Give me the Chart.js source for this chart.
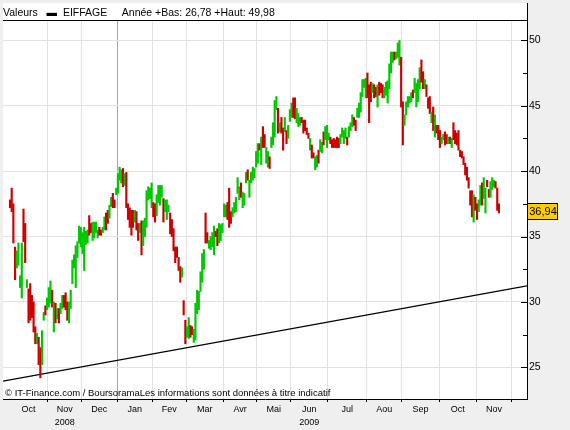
<!DOCTYPE html>
<html lang="fr">
<head>
<meta charset="utf-8">
<title>EIFFAGE</title>
<script src="https://cdn.jsdelivr.net/npm/chart.js@4.4.1/dist/chart.umd.min.js"></script>
<style>
    html, body { margin: 0; padding: 0; background: #efefef; }
    #graphe { display: block; }
</style>
</head>
<body>
<canvas id="graphe" width="570" height="430"></canvas>
<script>
// EIFFAGE, une barre par séance, du 1er oct. 2008 au 19 nov. 2009
const bas = [
    37.2, 36.9, 34.5, 31.7, 32.6, 32.8, 31.1, 30.3, 34.6, 33.0,
    31.1, 28.4, 28.6, 28.8, 27.7, 26.8, 26.8, 25.2, 24.2, 25.2,
    28.6, 29.0, 29.4, 29.6, 29.9, 29.6, 27.7, 28.4, 28.7, 28.4,
    29.1, 29.5, 29.6, 29.4, 28.6, 28.4, 29.5, 31.4, 32.6, 31.1,
    33.4, 34.5, 34.2, 33.7, 32.4, 34.4, 34.5, 35.1, 35.3, 34.7,
    34.9, 35.3, 34.9, 35.1, 35.1, 35.3, 35.5, 35.5, 36.0, 36.4,
    37.3, 37.2, 37.2, 38.2, 38.3, 39.3, 39.1, 38.8, 38.9, 37.2,
    36.3, 35.7, 35.1, 35.7, 36.1, 35.5, 34.7, 35.3, 33.6, 34.3,
    35.0, 35.7, 37.8, 37.9, 37.2, 36.5, 36.1, 36.6, 37.6, 37.4,
    38.0, 36.1, 36.9, 36.3, 36.9, 35.2, 35.0, 33.9, 33.0, 33.4,
    32.4, 31.5, 31.9, 29.0, 26.8, 27.3, 27.2, 27.3, 27.5, 26.9,
    27.1, 29.1, 29.4, 30.8, 31.5, 32.5, 34.5, 34.5, 34.1, 34.0,
    34.2, 33.6, 35.0, 34.3, 34.5, 34.7, 35.3, 36.5, 36.5, 36.3,
    35.7, 36.0, 36.5, 36.8, 36.9, 38.3, 37.8, 38.0, 37.2, 37.4,
    39.1, 39.3, 38.0, 39.1, 39.3, 39.5, 40.3, 40.6, 41.6, 40.5,
    41.8, 41.8, 40.6, 40.3, 40.2, 41.8, 42.0, 42.6, 44.7, 42.9,
    43.0, 42.9, 41.6, 43.0, 42.1, 42.5, 43.8, 44.1, 44.1, 44.0,
    43.7, 43.4, 43.5, 43.7, 42.9, 43.1, 42.8, 42.5, 41.6, 41.0,
    41.0, 40.1, 40.3, 40.6, 41.5, 41.4, 42.0, 42.4, 41.8, 42.4,
    42.1, 41.8, 41.8, 41.8, 41.8, 41.8, 42.1, 42.6, 42.1, 42.5,
    42.0, 42.6, 43.1, 43.4, 43.5, 43.1, 44.1, 44.1, 44.5, 45.7,
    46.4, 45.6, 45.6, 43.7, 45.3, 46.0, 45.6, 45.7, 44.9, 45.8,
    46.0, 45.6, 45.6, 45.8, 45.2, 46.3, 47.5, 48.3, 48.5, 48.6,
    48.7, 48.1, 44.9, 42.0, 43.5, 44.3, 44.9, 45.2, 45.3, 45.6,
    46.0, 44.9, 45.3, 46.3, 46.8, 46.3, 46.3, 45.7, 44.8, 44.4,
    43.7, 43.1, 42.6, 42.9, 42.4, 41.8, 42.1, 42.4, 42.0, 42.1,
    42.1, 42.1, 41.8, 42.4, 42.1, 42.0, 41.6, 41.1, 41.0, 40.5,
    39.7, 39.3, 38.7, 37.4, 36.5, 36.1, 37.0, 36.3, 36.9, 37.4,
    37.4, 37.9, 36.8, 38.8, 38.0, 38.0, 38.6, 38.8, 38.7, 37.0,
    36.8
];
const hauts = [
    37.8, 38.7, 37.5, 34.2, 33.9, 34.5, 32.0, 34.5, 37.1, 36.0,
    31.7, 31.0, 31.4, 30.5, 30.0, 28.1, 27.6, 27.3, 26.5, 27.8,
    29.2, 29.7, 30.3, 31.1, 31.6, 30.9, 30.0, 29.9, 29.5, 29.5,
    29.9, 30.5, 30.5, 30.7, 30.0, 30.0, 30.9, 33.2, 33.6, 34.3,
    34.6, 35.8, 35.7, 35.3, 35.7, 35.4, 35.5, 36.6, 36.0, 36.1,
    36.1, 36.1, 35.5, 35.7, 35.5, 35.7, 36.5, 36.8, 37.0, 37.4,
    38.0, 38.3, 37.8, 38.7, 39.8, 40.3, 40.1, 40.2, 39.8, 39.9,
    37.5, 37.2, 37.0, 37.0, 37.0, 36.9, 36.0, 36.0, 36.2, 36.2,
    36.4, 38.5, 38.8, 38.7, 39.1, 37.6, 37.5, 38.2, 38.9, 38.9,
    38.9, 37.9, 37.8, 37.8, 37.4, 36.8, 36.3, 35.6, 34.2, 34.2,
    33.4, 32.7, 32.6, 30.1, 28.6, 28.1, 28.8, 28.2, 28.1, 27.9,
    29.9, 30.9, 30.8, 32.3, 33.7, 34.0, 36.8, 35.3, 34.7, 35.0,
    35.3, 35.8, 35.4, 35.6, 36.0, 35.9, 36.0, 37.5, 37.4, 37.6,
    38.7, 36.9, 37.2, 37.6, 38.0, 39.5, 38.8, 39.1, 38.4, 38.3,
    39.9, 40.1, 39.3, 39.9, 40.3, 40.2, 41.5, 42.1, 42.1, 42.6,
    43.4, 42.8, 41.8, 41.5, 41.1, 42.6, 43.7, 45.4, 45.7, 44.8,
    43.7, 44.1, 43.3, 44.1, 43.1, 43.5, 44.7, 45.2, 45.6, 45.6,
    44.8, 44.4, 44.1, 44.1, 43.9, 43.9, 43.3, 42.9, 42.5, 42.0,
    41.4, 41.1, 41.2, 41.6, 42.4, 42.2, 43.0, 43.4, 43.5, 42.9,
    42.6, 42.4, 42.5, 42.4, 42.6, 42.5, 42.8, 43.3, 43.1, 43.3,
    42.6, 43.4, 43.7, 44.3, 44.1, 43.9, 44.8, 45.2, 46.0, 47.0,
    47.0, 47.1, 47.5, 46.6, 46.8, 46.7, 46.6, 46.4, 46.6, 46.8,
    46.7, 46.6, 46.4, 46.8, 46.9, 48.2, 49.1, 49.1, 49.1, 49.1,
    49.8, 49.98, 48.7, 45.3, 44.3, 45.3, 45.7, 45.7, 46.0, 46.2,
    47.1, 46.7, 47.0, 47.9, 48.5, 47.6, 47.0, 46.6, 45.6, 45.7,
    44.5, 44.9, 44.3, 43.5, 43.5, 43.1, 42.6, 42.8, 43.0, 42.8,
    42.6, 42.6, 42.5, 43.7, 43.1, 42.9, 43.1, 41.6, 41.5, 41.1,
    40.6, 40.3, 39.5, 38.5, 38.5, 38.2, 38.0, 37.5, 37.8, 38.9,
    39.1, 39.5, 38.7, 39.3, 38.6, 39.2, 39.5, 39.3, 39.2, 38.7,
    37.5
];
// 1 = séance en hausse (vert), 0 = en baisse (rouge)
const hausse = [
    0,0,0,0,1,1,1,1,0,0, 1,0,0,0,0,0,1,0,0,1, 1,0,1,1,1,0,1,0,1,0,
    1,1,0,0,0,1,1,1,1,1, 1,1,1,1,1,1,1,0,0,1, 1,1,1,0,0,1,1,0,0,1,
    1,0,0,1,1,1,1,0,1,0, 0,0,0,0,1,0,0,1,0,1, 1,1,1,1,1,0,0,1,1,1,
    1,0,1,1,1,0,0,0,0,0, 0,0,1,0,0,1,1,0,0,1, 1,1,1,1,1,1,0,0,1,1,
    1,1,0,0,1,1,1,1,1,0, 0,0,1,1,1,1,1,0,1,1, 1,0,1,1,1,1,1,1,0,1,
    0,0,1,1,0,1,1,1,1,0, 1,0,0,1,0,1,1,1,0,0, 1,1,1,0,0,0,0,0,1,0,
    0,1,1,0,1,1,0,1,1,1, 0,0,0,0,0,0,1,1,1,1, 0,1,1,1,0,0,1,1,1,1,
    1,1,0,0,0,1,0,0,1,0, 0,0,1,1,1,1,1,1,0,1, 1,1,0,0,1,1,1,1,1,0,
    1,1,1,1,0,0,1,0,0,0, 1,0,1,0,0,0,1,1,0,0, 1,0,1,0,0,0,0,0,0,0,
    0,0,0,0,0,1,0,0,1,1, 0,1,1,0,0,1,1,1,0,0, 0
];
const dernierCours = 36.94;

// axe du temps : index de séance du premier jour de chaque mois
const moisLabels = ['Oct', 'Nov', 'Dec', 'Jan', 'Fev', 'Mar', 'Avr', 'Mai', 'Jun', 'Jul', 'Aou', 'Sep', 'Oct', 'Nov'];
const anneesLabels = ['', '2008', '', '', '', '', '', '', '2009', '', '', '', '', ''];
const debutsMois = [0, 23, 43, 64, 85, 105, 127, 147, 167, 189, 212, 233, 255, 277, 298];
const debutAnnee = 64;
const graduations = [25, 30, 35, 40, 45, 50];

// droite de support
const tendance = [{ x: -4.15, y: 23.94 }, { x: 306.64, y: 31.23 }];

const xMin = -4.15, xMax = 306.64;
const yMin = 22.58, yMax = 51.55;
const vert = '#00c800';
const rouge = '#cc0000';
const police = '"Liberation Sans", Arial, sans-serif';

const centresMois = moisLabels.map((m, k) => (debutsMois[k] + debutsMois[k + 1]) / 2 - 0.5);
const limitesMois = debutsMois.slice(1).map(d => d - 0.5);

const cadre = {
    id: 'cadre',
    beforeDraw(chart) {
        const { ctx, chartArea: a } = chart;
        ctx.save();
        ctx.fillStyle = '#fff';
        ctx.fillRect(a.left, 3, a.right - a.left, a.bottom - 3);
        ctx.restore();
    },
    afterDraw(chart) {
        const { ctx, chartArea: a } = chart;
        const y = chart.scales.y;
        ctx.save();
        ctx.strokeStyle = '#000';
        ctx.lineWidth = 1;
        ctx.beginPath();
        ctx.moveTo(Math.round(a.right) + 0.5, 3);
        ctx.lineTo(Math.round(a.right) + 0.5, a.top);
        ctx.stroke();
        // petites graduations vers l'intérieur
        y.ticks.forEach(t => {
            const py = Math.round(y.getPixelForValue(t.value)) + 0.5;
            const l = graduations.includes(t.value) ? 6 : 4;
            ctx.beginPath();
            ctx.moveTo(a.right - l, py);
            ctx.lineTo(a.right, py);
            ctx.stroke();
        });
        ctx.fillStyle = '#000';
        ctx.font = '9.5px ' + police;
        ctx.textBaseline = 'middle';
        ctx.fillText('© IT-Finance.com / BoursoramaLes informations sont données à titre indicatif', a.left + 2, a.bottom - 6);

        // étiquette du dernier cours
        const py = Math.round(y.getPixelForValue(dernierCours));
        ctx.fillStyle = '#ffcc00';
        ctx.fillRect(a.right, py - 8, 31, 17);
        ctx.strokeRect(a.right + 0.5, py - 7.5, 30, 16);
        ctx.fillStyle = '#000';
        ctx.font = '11px ' + police;
        ctx.textAlign = 'center';
        ctx.fillText(dernierCours.toFixed(2).replace('.', ','), a.right + 16, py + 1);
        ctx.restore();
    }
};

new Chart(document.getElementById('graphe'), {
    type: 'bar',
    data: {
        datasets: [
            {
                type: 'line',
                data: tendance,
                borderColor: '#000',
                borderWidth: 1.2,
                pointRadius: 0,
                xAxisID: 'x',
                yAxisID: 'y',
                order: 1
            },
            {
                data: bas.map((b, i) => ({ x: i, y: [b, hauts[i]] })),
                backgroundColor: hausse.map(h => h ? vert : rouge),
                barThickness: 1.5,
                borderWidth: 0,
                xAxisID: 'x',
                yAxisID: 'y',
                order: 0
            }
        ]
    },
    options: {
        responsive: false,
        animation: false,
        layout: { padding: { left: 3, top: 0, right: 0, bottom: 1 } },
        plugins: {
            legend: { display: false },
            tooltip: { enabled: false },
            title: {
                display: true,
                text: 'Valeurs   \u25AC  EIFFAGE     Année +Bas: 26,78 +Haut: 49,98',
                align: 'start',
                color: '#000',
                font: { family: police, size: 10.5, weight: 'normal', lineHeight: 1 },
                padding: { top: 7.5, bottom: 2 }
            }
        },
        scales: {
            x: {
                type: 'linear',
                position: 'bottom',
                weight: 1,
                min: xMin,
                max: xMax,
                offset: false,
                grid: { display: false, drawTicks: false, offset: false },
                border: { display: false },
                afterBuildTicks: s => { s.ticks = centresMois.map(v => ({ value: v })); },
                afterFit: s => { s.height = 27; },
                ticks: {
                    autoSkip: false,
                    maxRotation: 0,
                    padding: 1,
                    color: '#000',
                    font: { family: police, size: 9, lineHeight: 1.45 },
                    callback: (v, i) => [moisLabels[i], anneesLabels[i]]
                }
            },
            x2: {
                type: 'linear',
                axis: 'x',
                position: 'bottom',
                weight: 0,
                min: xMin,
                max: xMax,
                offset: false,
                grid: {
                    offset: false,
                    drawTicks: true,
                    tickLength: 3,
                    tickColor: '#000',
                    color: c => (c.tick && c.tick.value === debutAnnee - 0.5) ? '#a6a6a6' : '#e2e2e2'
                },
                border: { color: '#000' },
                ticks: { display: false },
                afterBuildTicks: s => { s.ticks = limitesMois.map(v => ({ value: v })); },
                afterFit: s => { s.height = 3; }
            },
            xHaut: {
                type: 'linear',
                axis: 'x',
                position: 'top',
                min: xMin,
                max: xMax,
                offset: false,
                grid: { display: false, drawTicks: false },
                border: { color: '#000' },
                ticks: { display: false },
                afterFit: s => { s.height = 0; }
            },
            y: {
                type: 'linear',
                position: 'right',
                min: yMin,
                max: yMax,
                grid: {
                    drawTicks: false,
                    color: c => (c.tick && graduations.includes(c.tick.value)) ? '#e2e2e2' : 'rgba(0,0,0,0)'
                },
                border: { color: '#000' },
                afterBuildTicks: s => {
                    const t = [];
                    graduations.forEach(g => {
                        t.push({ value: g });
                        if (g < 50) t.push({ value: g + 2.5 });
                    });
                    s.ticks = t;
                },
                afterFit: s => { s.width = 43; },
                ticks: {
                    autoSkip: false,
                    padding: 2,
                    color: '#000',
                    font: { family: police, size: 10.5 },
                    callback: v => graduations.includes(v) ? String(v) : ''
                }
            }
        }
    },
    plugins: [cadre]
});
</script>
</body>
</html>
